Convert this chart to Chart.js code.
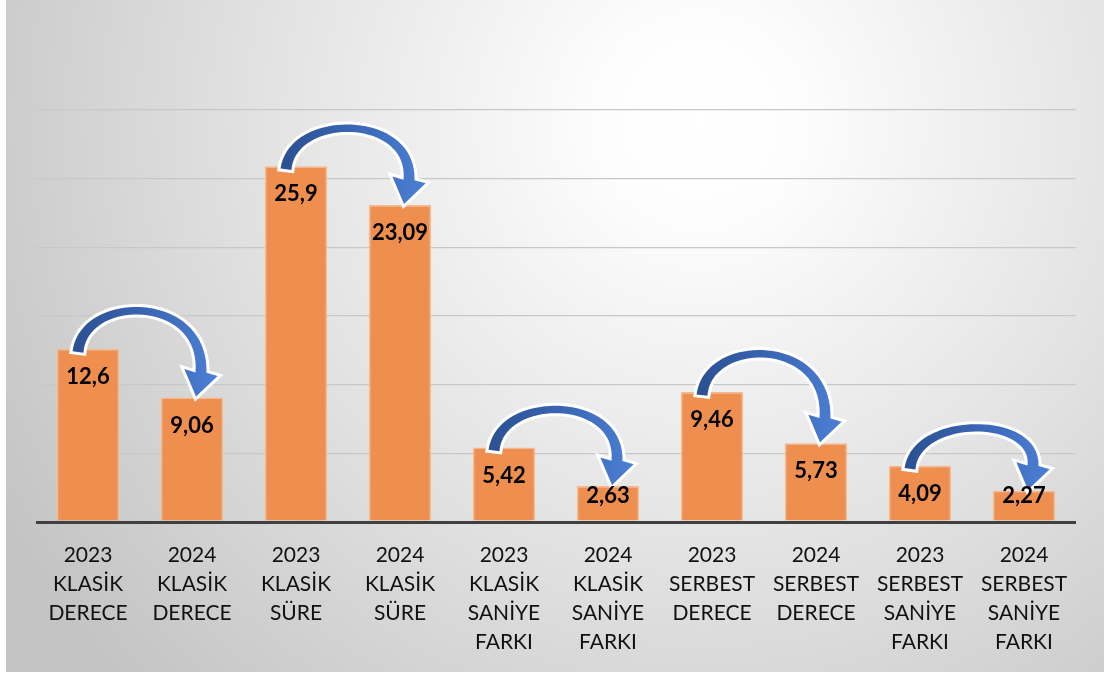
<!DOCTYPE html>
<html>
<head>
<meta charset="utf-8">
<script src="https://cdn.jsdelivr.net/npm/chart.js@4"></script>
<style>
  html, body { margin: 0; padding: 0; background: #fff; }
  #wrap { width: 1107px; height: 677px; position: relative; }
</style>
</head>
<body>
<div id="wrap"><canvas id="mycanvas"></canvas></div>
<script>
// data
var kategoriler = [
    ["2023", "KLASİK", "DERECE"],
    ["2024", "KLASİK", "DERECE"],
    ["2023", "KLASİK", "SÜRE"],
    ["2024", "KLASİK", "SÜRE"],
    ["2023", "KLASİK", "SANİYE", "FARKI"],
    ["2024", "KLASİK", "SANİYE", "FARKI"],
    ["2023", "SERBEST", "DERECE"],
    ["2024", "SERBEST", "DERECE"],
    ["2023", "SERBEST", "SANİYE", "FARKI"],
    ["2024", "SERBEST", "SANİYE", "FARKI"]
];
var degerler = [12.6, 9.06, 25.9, 23.09, 5.42, 2.63, 9.46, 5.73, 4.09, 2.27];
var etiketler = ["12,6", "9,06", "25,9", "23,09", "5,42", "2,63", "9,46", "5,73", "4,09", "2,27"];
var oklar = [[0, 1], [2, 3], [4, 5], [6, 7], [8, 9]];

var arkaPlan = {
    id: 'arkaPlan',
    beforeDraw: function(chart) {
        var c = chart.ctx;
        c.save();
        c.fillStyle = '#ffffff';
        c.fillRect(0, 0, chart.width, chart.height);
        var g = c.createRadialGradient(700, 120, 0, 700, 120, 800);
        g.addColorStop(0, '#ffffff');
        g.addColorStop(0.12, '#fdfdfd');
        g.addColorStop(0.55, '#e2e2e2');
        g.addColorStop(1, '#c4c4c4');
        c.fillStyle = g;
        c.fillRect(6, 0, 1098, 672);
        c.restore();
    }
};

var degerYazilari = {
    id: 'degerYazilari',
    afterDatasetsDraw: function(chart) {
        var c = chart.ctx;
        var meta = chart.getDatasetMeta(0);
        c.save();
        c.font = 'bold 22px Lato';
        c.fillStyle = '#000';
        c.textAlign = 'center';
        c.textBaseline = 'middle';
        meta.data.forEach(function(bar, i) {
            var y = Math.min(bar.y + 28, bar.base - 25);
            c.fillText(etiketler[i], bar.x, y);
        });
        c.restore();
    }
};

function bez(p0, p1, p2, p3, t) {
    var u = 1 - t;
    return {
        x: u*u*u*p0.x + 3*u*u*t*p1.x + 3*u*t*t*p2.x + t*t*t*p3.x,
        y: u*u*u*p0.y + 3*u*u*t*p1.y + 3*u*t*t*p2.y + t*t*t*p3.y
    };
}

var okCiz = {
    id: 'okCiz',
    afterDatasetsDraw: function(chart) {
        var c = chart.ctx;
        var meta = chart.getDatasetMeta(0);
        oklar.forEach(function(p) {
            var a = meta.data[p[0]], b = meta.data[p[1]];
            var P0 = { x: a.x - 10, y: a.y + 3 };
            var T = { x: b.x + 4, y: b.y - 1 };
            var H = { x: T.x + 5, y: T.y - 24 };
            var tepe = a.y - 38;
            var cy = (8 * tepe - P0.y - H.y) / 6;
            var P1 = { x: P0.x + 6, y: cy };
            var P2 = { x: H.x + 4, y: cy };
            var sol = [], sag = [];
            var n = 40;
            for (var i = 0; i <= n; i++) {
                var t = i / n;
                var q = bez(P0, P1, P2, H, t);
                var q2 = bez(P0, P1, P2, H, Math.min(1, t + 0.01));
                var q1 = bez(P0, P1, P2, H, Math.max(0, t - 0.01));
                var dx = q2.x - q1.x, dy = q2.y - q1.y;
                var L = Math.sqrt(dx*dx + dy*dy);
                var nx = -dy / L, ny = dx / L;
                var hw = 5.5 - 1.8 * Math.sin(Math.PI * t);
                sol.push({ x: q.x + nx*hw, y: q.y + ny*hw });
                sag.push({ x: q.x - nx*hw, y: q.y - ny*hw });
            }
            var ddx = T.x - H.x, ddy = T.y - H.y;
            var dl = Math.sqrt(ddx*ddx + ddy*ddy);
            var hx = -ddy / dl, hy = ddx / dl;
            c.save();
            c.beginPath();
            c.moveTo(sol[0].x, sol[0].y);
            sol.forEach(function(s) { c.lineTo(s.x, s.y); });
            c.lineTo(H.x + hx*17, H.y + hy*17);
            c.lineTo(T.x, T.y);
            c.lineTo(H.x - hx*17, H.y - hy*17);
            for (var j = sag.length - 1; j >= 0; j--) c.lineTo(sag[j].x, sag[j].y);
            c.closePath();
            c.lineJoin = 'miter';
            c.strokeStyle = '#ffffff';
            c.lineWidth = 6;
            c.stroke();
            var g = c.createLinearGradient(P0.x, 0, T.x + 16, 0);
            g.addColorStop(0, '#2c5294');
            g.addColorStop(0.5, '#3a65b3');
            g.addColorStop(1, '#4a7dd2');
            c.fillStyle = g;
            c.fill();
            c.restore();
        });
    }
};

var ctx = document.getElementById('mycanvas');

var grafik = new Chart(ctx, {
    type: 'bar',
    data: {
        labels: kategoriler,
        datasets: [{
            data: degerler,
            backgroundColor: '#ee8f4f',
            borderColor: '#f6b98f',
            borderWidth: 1.5,
            barPercentage: 0.6,
            categoryPercentage: 1.0
        }]
    },
    options: {
        responsive: true,
        maintainAspectRatio: false,
        animation: false,
        layout: { padding: { left: 36, right: 31, top: 110, bottom: 0 } },
        plugins: {
            legend: { display: false },
            tooltip: { enabled: false }
        },
        scales: {
            y: {
                min: 0,
                max: 30,
                ticks: { display: false, stepSize: 5 },
                border: { display: false },
                grid: {
                    drawTicks: false,
                    color: function(c) { return c.tick.value === 0 ? '#404040' : '#c8c8c8'; },
                    lineWidth: function(c) { return c.tick.value === 0 ? 3 : 1.2; }
                },
                afterFit: function(s) { s.width = 0; }
            },
            x: {
                grid: { display: false },
                border: { display: false },
                ticks: {
                    color: '#111',
                    padding: 11,
                    maxRotation: 0,
                    autoSkip: false,
                    font: { family: 'Lato', size: 21, lineHeight: 1.38 }
                },
                afterFit: function(s) { s.height = 155; }
            }
        }
    },
    plugins: [arkaPlan, okCiz, degerYazilari]
});
</script>
</body>
</html>
